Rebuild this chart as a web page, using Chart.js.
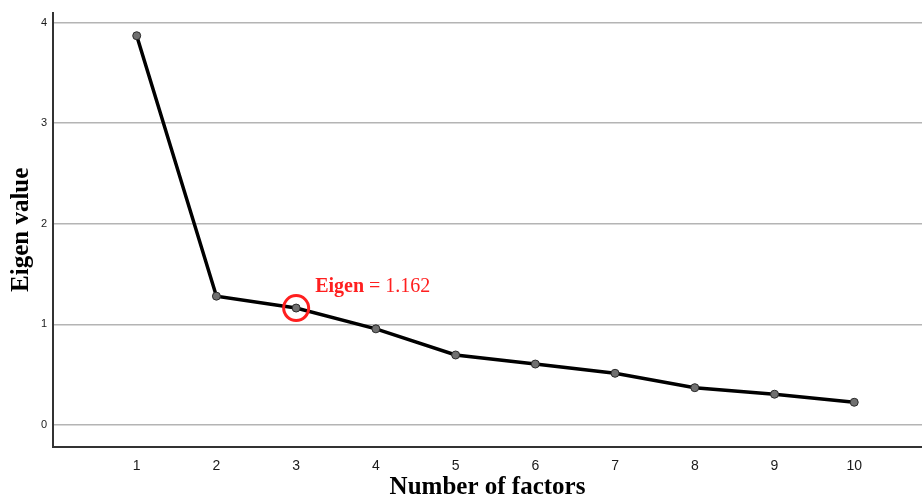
<!DOCTYPE html>
<html>
<head>
<meta charset="utf-8">
<script src="https://cdn.jsdelivr.net/npm/chart.js@4/dist/chart.umd.min.js"></script>
<style>
  body { margin: 0; background: #fff; }
  canvas { display: block; }
</style>
</head>
<body>
<canvas id="scree" width="922" height="500"></canvas>
<script>
const factors = [1, 2, 3, 4, 5, 6, 7, 8, 9, 10];
const eigenValues = [3.87, 1.28, 1.162, 0.955, 0.695, 0.605, 0.513, 0.37, 0.305, 0.225];
const yTicks = [0, 1, 2, 3, 4];
const markedIndex = 2;
const markedLabel = 'Eigen';
const markedValue = ' = 1.162';

// red circle + label on the chosen factor
const markPlugin = {
    id: 'mark',
    afterDatasetsDraw(chart) {
        const ctx = chart.ctx;
        const px = chart.scales.x.getPixelForValue(factors[markedIndex]);
        const py = chart.scales.y.getPixelForValue(eigenValues[markedIndex]);
        ctx.save();
        ctx.strokeStyle = '#ff1f1f';
        ctx.lineWidth = 3;
        ctx.beginPath();
        ctx.arc(px, py, 12.5, 0, Math.PI * 2);
        ctx.stroke();
        ctx.fillStyle = '#ff1f1f';
        ctx.textBaseline = 'alphabetic';
        ctx.font = 'bold 20px "Liberation Serif", "Times New Roman", serif';
        const x0 = px + 19;
        const y0 = py - 16;
        ctx.fillText(markedLabel, x0, y0);
        const w = ctx.measureText(markedLabel).width;
        ctx.font = '20px "Liberation Serif", "Times New Roman", serif';
        ctx.fillText(markedValue, x0 + w, y0);
        ctx.restore();
    }
};

const points = factors.map((f, i) => ({ x: f, y: eigenValues[i] }));

new Chart(document.getElementById('scree'), {
    type: 'line',
    data: {
        datasets: [{
            label: 'Eigen value',
            data: points,
            borderColor: '#000',
            borderWidth: 3.5,
            pointRadius: 4,
            pointBackgroundColor: '#707070',
            pointBorderColor: '#2a2a2a',
            pointBorderWidth: 1,
            tension: 0,
        }]
    },
    options: {
        responsive: false,
        animation: false,
        layout: { autoPadding: false, padding: { top: 11, right: 0, left: 0, bottom: 0 } },
        plugins: {
            legend: { display: false },
            tooltip: { enabled: false },
        },
        scales: {
            x: {
                type: 'linear',
                min: -0.05,
                max: 10.85,
                afterBuildTicks: (scale) => { scale.ticks = factors.map(v => ({ value: v })); },
                afterFit: (scale) => { scale.height = 53; },
                grid: { display: false, drawTicks: false },
                border: { color: '#333', width: 2 },
                ticks: {
                    padding: 11,
                    color: '#1a1a1a',
                    font: { family: 'Arial, "Liberation Sans", sans-serif', size: 14 },
                },
                title: {
                    display: true,
                    text: 'Number of factors',
                    color: '#000',
                    padding: { top: 0, bottom: 0 },
                    font: { family: '"Liberation Serif", "Times New Roman", serif', size: 25, weight: 'bold', lineHeight: 1 },
                }
            },
            y: {
                min: -0.22,
                max: 4.1,
                afterBuildTicks: (scale) => { scale.ticks = yTicks.map(v => ({ value: v })); },
                afterFit: (scale) => { scale.width = 53; },
                grid: { color: '#b4b4b4', lineWidth: 1.5, drawTicks: false },
                border: { color: '#333', width: 2 },
                ticks: {
                    padding: 6,
                    color: '#1a1a1a',
                    font: { family: 'Arial, "Liberation Sans", sans-serif', size: 11 },
                },
                title: {
                    display: true,
                    text: 'Eigen value',
                    color: '#000',
                    padding: { top: 9, bottom: 0 },
                    font: { family: '"Liberation Serif", "Times New Roman", serif', size: 25, weight: 'bold', lineHeight: 1 },
                }
            }
        }
    },
    plugins: [markPlugin]
});
</script>
</body>
</html>
